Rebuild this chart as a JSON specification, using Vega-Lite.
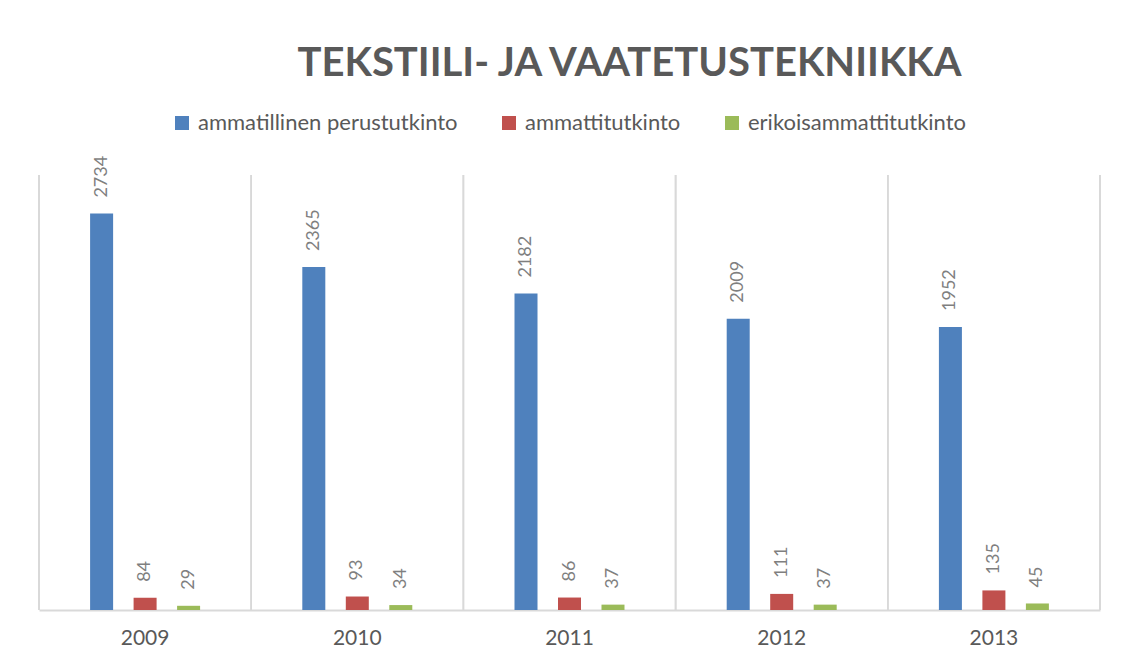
{
  "$schema": "https://vega.github.io/schema/vega-lite/v6.json",
  "width": 1061,
  "height": 435,
  "autosize": {"type": "none"},
  "padding": {"left": 39, "top": 175, "right": 26, "bottom": 50},
  "background": "white",
  "config": {"view": {"stroke": null}, "font": "Lato"},
  "title": {
    "text": "TEKSTIILI- JA VAATETUSTEKNIIKKA",
    "font": "Lato",
    "fontSize": 40,
    "fontWeight": "bold",
    "color": "#595959",
    "anchor": "middle",
    "dx": 60,
    "offset": 28
  },
  "data": {
    "values": [
      {"year": "2009", "series": "ammatillinen perustutkinto", "value": 2734},
      {"year": "2009", "series": "ammattitutkinto", "value": 84},
      {"year": "2009", "series": "erikoisammattitutkinto", "value": 29},
      {"year": "2010", "series": "ammatillinen perustutkinto", "value": 2365},
      {"year": "2010", "series": "ammattitutkinto", "value": 93},
      {"year": "2010", "series": "erikoisammattitutkinto", "value": 34},
      {"year": "2011", "series": "ammatillinen perustutkinto", "value": 2182},
      {"year": "2011", "series": "ammattitutkinto", "value": 86},
      {"year": "2011", "series": "erikoisammattitutkinto", "value": 37},
      {"year": "2012", "series": "ammatillinen perustutkinto", "value": 2009},
      {"year": "2012", "series": "ammattitutkinto", "value": 111},
      {"year": "2012", "series": "erikoisammattitutkinto", "value": 37},
      {"year": "2013", "series": "ammatillinen perustutkinto", "value": 1952},
      {"year": "2013", "series": "ammattitutkinto", "value": 135},
      {"year": "2013", "series": "erikoisammattitutkinto", "value": 45}
    ]
  },
  "layer": [
    {
      "mark": {"type": "rule", "color": "#d9d9d9", "strokeWidth": 1.5},
      "encoding": {
        "x": {"field": "year", "type": "nominal", "bandPosition": 0,
              "scale": {"paddingInner": 0, "paddingOuter": 0},
              "axis": {"title": null, "labelAngle": 0, "ticks": false, "domainColor": "#d9d9d9", "domainWidth": 2,
                       "labelFont": "Lato", "labelFontSize": 21, "labelColor": "#595959", "labelPadding": 17, "grid": false}}
      }
    },
    {
      "transform": [{"filter": "datum.year == '2013'"}],
      "mark": {"type": "rule", "color": "#d9d9d9", "strokeWidth": 1.5},
      "encoding": {
        "x": {"field": "year", "type": "nominal", "bandPosition": 1}
      }
    },
    {
      "mark": {"type": "bar"},
      "encoding": {
        "x": {"field": "year", "type": "nominal"},
        "xOffset": {"field": "series", "type": "nominal",
                    "scale": {"domain": ["_a", "ammatillinen perustutkinto", "ammattitutkinto", "erikoisammattitutkinto", "_z"],
                              "paddingInner": 0.471, "paddingOuter": 0.175}},
        "y": {"field": "value", "type": "quantitative", "scale": {"domain": [0, 3000]}, "axis": null},
        "color": {"field": "series", "type": "nominal",
                  "scale": {"domain": ["ammatillinen perustutkinto", "ammattitutkinto", "erikoisammattitutkinto"],
                            "range": ["#4f81bd", "#c0504d", "#9bbb59"]},
                  "legend": {"orient": "none", "legendX": 132, "legendY": -63, "direction": "horizontal", "title": null, "symbolType": "square",
                             "symbolSize": 196, "symbolStrokeWidth": 0, "labelFontSize": 22, "labelColor": "#595959",
                             "labelFont": "Lato", "columnPadding": 40, "labelOffset": 5, "labelLimit": 400}}
      }
    },
    {
      "mark": {"type": "text", "angle": 270, "align": "left", "baseline": "middle", "dx": 16,
               "font": "Lato", "fontSize": 18, "color": "#7f7f7f"},
      "encoding": {
        "x": {"field": "year", "type": "nominal"},
        "xOffset": {"field": "series", "type": "nominal"},
        "y": {"field": "value", "type": "quantitative"},
        "text": {"field": "value", "type": "quantitative"}
      }
    }
  ]
}
